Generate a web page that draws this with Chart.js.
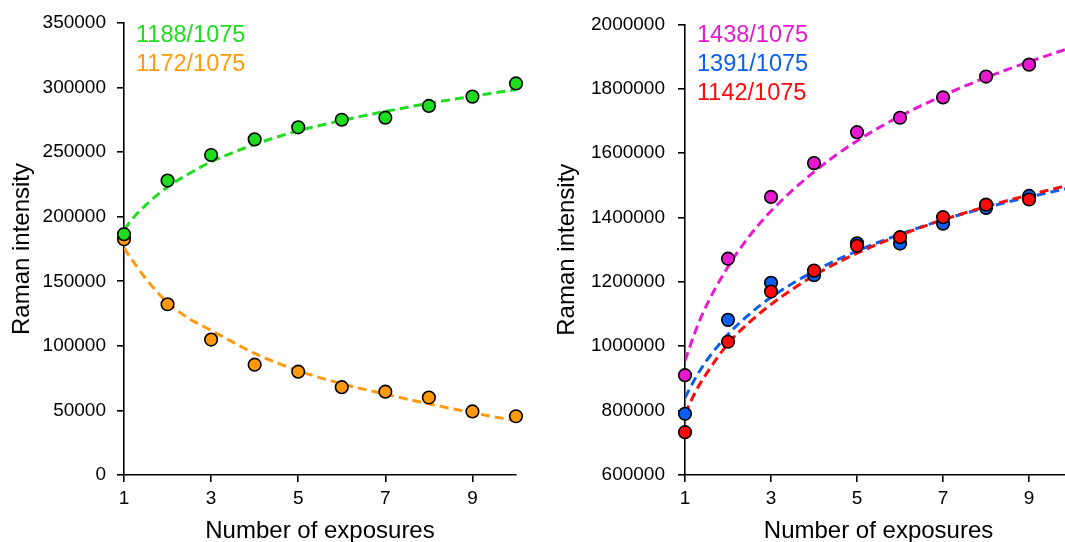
<!DOCTYPE html>
<html>
<head>
<meta charset="utf-8">
<script src="https://cdn.jsdelivr.net/npm/chart.js@4.4.1/dist/chart.umd.min.js"></script>
<style>
  html, body { margin: 0; padding: 0; background: #fff; overflow: hidden; }
  #wrap { position: relative; width: 1065px; height: 542px; overflow: hidden; }
  .box { position: absolute; top: 0; height: 542px; }
</style>
</head>
<body>
<div id="wrap">
  <div class="box" style="left:0;width:540px"><canvas id="left" width="540" height="542"></canvas></div>
  <div class="box" style="left:540px;width:540px"><canvas id="right" width="540" height="542"></canvas></div>
</div>
<script>
// measured points
var exposures = [1, 2, 3, 4, 5, 6, 7, 8, 9, 10];
var ratio1188 = [186500, 228000, 247800, 259900, 269200, 275100, 276700, 285800, 293000, 303200];
var ratio1172 = [182500, 132200, 104900, 85400, 80000, 68000, 64500, 60000, 49200, 45500];

var exposuresR = [1, 2, 3, 4, 5, 6, 7, 8, 9];
var ratio1438 = [910000, 1272000, 1464000, 1569000, 1665000, 1710000, 1773000, 1838000, 1875000];
var ratio1391 = [790000, 1082000, 1197000, 1221000, 1320000, 1319000, 1381000, 1430000, 1467000];
var ratio1142 = [733000, 1014000, 1170000, 1235000, 1312000, 1339000, 1401000, 1440000, 1456000];

// fitted (dashed) curves
var fitX = [1, 1.25, 1.5, 2, 2.5, 3, 4, 5, 6, 7, 8, 9, 10];
var fit1188 = [190000, 200500, 209000, 223000, 233500, 242500, 256000, 266500, 274500, 281500, 287800, 293200, 298500];
var fit1172 = [175800, 163500, 152000, 133500, 121000, 112000, 94200, 80800, 70600, 62600, 55100, 48200, 42000];
var fit1438 = [955000, 1050000, 1127000, 1247000, 1343000, 1420000, 1542000, 1638000, 1715000, 1779000, 1835000, 1884000, 1929000];
var fit1391 = [840000, 903000, 955000, 1037000, 1100000, 1152000, 1233000, 1296000, 1348000, 1393000, 1431000, 1464000, 1493000];
var fit1142 = [790000, 860000, 915000, 1008000, 1075000, 1130000, 1220000, 1289000, 1345000, 1393000, 1434000, 1470000, 1503000];

var xTicks = [1, 3, 5, 7, 9];
var yTicksL = [0, 50000, 100000, 150000, 200000, 250000, 300000, 350000];
var yTicksR = [600000, 800000, 1000000, 1200000, 1400000, 1600000, 1800000, 2000000];

var FONT = '"Liberation Sans", Arial, sans-serif';
var cGreen = '#1ddd1d', cOrange = '#ff9a0d', cMagenta = '#e619d0', cBlue = '#0a5ff0', cRed = '#ff0a0a';

function pts(xs, ys) {
    return xs.map(function (x, i) { return { x: x, y: ys[i] }; });
}

function pointSet(label, xs, ys, color, order) {
    return {
        label: label, data: pts(xs, ys), order: order, clip: false,
        backgroundColor: color, borderColor: '#000', borderWidth: 1.6,
        pointRadius: 6.3, pointHoverRadius: 6.3, showLine: false
    };
}

function curveSet(xs, ys, color, order) {
    return {
        label: '', data: pts(xs, ys), order: order, showLine: true,
        borderColor: color, borderWidth: 3, borderDash: [9, 5],
        pointRadius: 0, fill: false, cubicInterpolationMode: 'monotone'
    };
}

// the coloured labels in the corner
var labelPlugin = {
    id: 'cornerLabels',
    afterDatasetsDraw: function (chart, args, opts) {
        var ctx = chart.ctx;
        ctx.save();
        ctx.font = '23.5px ' + FONT;
        ctx.textAlign = 'left';
        ctx.textBaseline = 'alphabetic';
        opts.items.forEach(function (it, i) {
            ctx.fillStyle = it.color;
            ctx.fillText(it.text, chart.chartArea.left + 12, 41.5 + i * 29);
        });
        ctx.restore();
    }
};

function makeChart(id, datasets, yMin, yMax, yTicks, yWidth, padRight, yTitlePad, tickPad, items) {
    var ctx = document.getElementById(id);
    return new Chart(ctx, {
        type: 'scatter',
        data: { datasets: datasets },
        plugins: [labelPlugin],
        options: {
            responsive: false,
            animation: false,
            devicePixelRatio: 1,
            layout: { padding: { left: 0, right: padRight, top: 23, bottom: 0 } },
            plugins: {
                legend: { display: false },
                tooltip: { enabled: false },
                cornerLabels: { items: items }
            },
            scales: {
                x: {
                    type: 'linear', min: 1, max: 10,
                    afterBuildTicks: function (s) { s.ticks = xTicks.map(function (v) { return { value: v }; }); },
                    afterFit: function (s) { s.height = 67; },
                    border: { display: true, color: '#000', width: 1.6 },
                    grid: { drawOnChartArea: false, drawTicks: true, tickLength: 7, color: '#000', lineWidth: 1.6 },
                    ticks: { color: '#000', font: { family: FONT, size: 19 }, padding: 5, maxRotation: 0 },
                    title: {
                        display: true, text: 'Number of exposures', color: '#000',
                        font: { family: FONT, size: 24, lineHeight: 0.9 }, padding: { top: 0, bottom: 0 }
                    }
                },
                y: {
                    type: 'linear', min: yMin, max: yMax,
                    afterBuildTicks: function (s) { s.ticks = yTicks.map(function (v) { return { value: v }; }); },
                    afterFit: function (s) { s.width = yWidth; },
                    border: { display: true, color: '#000', width: 1.6 },
                    grid: { drawOnChartArea: false, drawTicks: true, tickLength: 7, color: '#000', lineWidth: 1.6 },
                    ticks: {
                        color: '#000', font: { family: FONT, size: 19 }, padding: tickPad,
                        callback: function (v) { return String(v); }
                    },
                    title: {
                        display: true, text: 'Raman intensity', color: '#000',
                        font: { family: FONT, size: 24, lineHeight: 1 }, padding: { top: yTitlePad, bottom: 0 }
                    }
                }
            }
        }
    });
}

makeChart('left', [
    pointSet('1188/1075', exposures, ratio1188, cGreen, 0),
    pointSet('1172/1075', exposures, ratio1172, cOrange, 1),
    curveSet(fitX, fit1188, cGreen, 10),
    curveSet(fitX, fit1172, cOrange, 11)
], 0, 350000, yTicksL, 124, 24, 10, 11, [
    { text: '1188/1075', color: cGreen },
    { text: '1172/1075', color: cOrange }
]);

makeChart('right', [
    pointSet('1142/1075', exposuresR, ratio1142, cRed, 0),
    pointSet('1391/1075', exposuresR, ratio1391, cBlue, 1),
    pointSet('1438/1075', exposuresR, ratio1438, cMagenta, 2),
    curveSet(fitX, fit1142, cRed, 10),
    curveSet(fitX, fit1391, cBlue, 11),
    curveSet(fitX, fit1438, cMagenta, 12)
], 600000, 2000000, yTicksR, 145, 6, 15, 13, [
    { text: '1438/1075', color: cMagenta },
    { text: '1391/1075', color: cBlue },
    { text: '1142/1075', color: cRed }
]);
</script>
</body>
</html>
